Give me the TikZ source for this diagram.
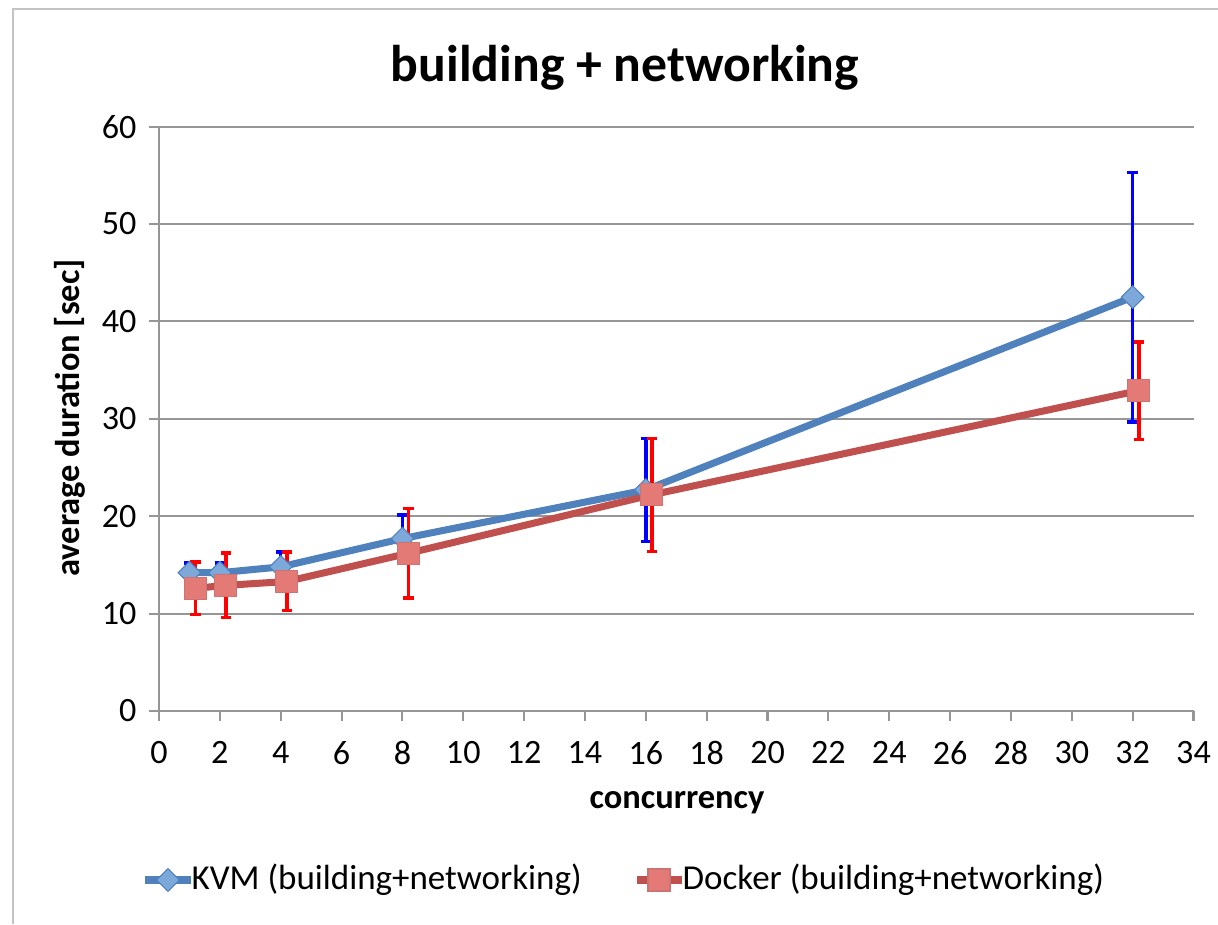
\documentclass[tikz,border=0pt]{standalone}
\usepackage{fontspec}
\setmainfont{Carlito}
\usepackage{xcolor}
\usetikzlibrary{shapes.geometric, positioning}

\definecolor{kvmblue}{RGB}{79,129,189}
\definecolor{kvmfill}{RGB}{125,168,218}
\definecolor{dockred}{RGB}{192,80,77}
\definecolor{dockfill}{RGB}{228,122,118}
\definecolor{gridgray}{RGB}{150,150,150}
\definecolor{framegray}{RGB}{195,195,195}

\begin{document}
\begin{tikzpicture}[
    x=0.01cm, y=-0.01cm,
    tick/.style={font=\fontsize{9.7}{11}\selectfont, inner sep=1pt},
    legendtext/.style={font=\fontsize{9.95}{11}\selectfont, inner sep=0pt},
    axtitle/.style={font=\bfseries\fontsize{9.8}{11}\selectfont, inner sep=1pt},
    gridline/.style={gridgray, line width=0.6pt},
    kvmcurve/.style={kvmblue, line width=2pt, line join=round},
    dockcurve/.style={dockred, line width=2pt, line join=round},
    kvmerr/.style={blue, line width=1pt},
    dockerr/.style={red, line width=1pt},
    kvmmark/.style={diamond, fill=kvmfill, draw=kvmblue, line width=0.3pt, inner sep=0pt, minimum size=0.23cm},
    dockmark/.style={rectangle, fill=dockfill, draw=dockred!80, line width=0.3pt, inner sep=0pt, minimum size=0.22cm}
]
\useasboundingbox (0,0) rectangle (1218,924);
\fill[white] (0,0) rectangle (1218,924);
\draw[framegray, line width=0.6pt] (13,924) -- (13,9) -- (1218,9);

\node[font=\bfseries\fontsize{14.7}{17}\selectfont] (title) at (625,68) {building + networking};

\begin{scope}[shift={(159,711)}, x=0.3041cm, y=0.09733cm]
  % grid and axes
  \foreach \v in {10,20,...,60}
    \draw[gridline] (-0.33,\v) -- (34,\v);
  \draw[gridline] (-0.33,0) -- (34,0);
  \draw[gridline] (0,0) -- (0,60);
  \foreach \v in {0,10,...,60}
    \node[tick, anchor=east] (ylab\v) at (-0.6,\v) {\v};
  \foreach \u in {0,2,...,34}{
    \draw[gridline] (\u,0) -- (\u,-1.05);
    \node[tick] (xlab\u) at (\u,-4.3) {\u};
  }

  % KVM: x / mean / error
  \foreach \x/\y/\e [count=\i] in {1/14.2/1.0, 2/14.2/1.0, 4/14.8/1.5, 8/17.7/2.4, 16/22.7/5.3, 32/42.5/12.8}{
    \coordinate (kp\i) at (\x,\y);
    \draw[kvmerr] (\x,\y-\e) -- (\x,\y+\e);
    \draw[kvmerr] (\x,\y-\e) ++(-0.17,0) -- ++(0.34,0);
    \draw[kvmerr] (\x,\y+\e) ++(-0.17,0) -- ++(0.34,0);
  }
  % Docker: x / mean / error
  \foreach \x/\y/\e [count=\i] in {1.2/12.6/2.7, 2.2/12.9/3.3, 4.2/13.3/3.0, 8.2/16.2/4.6, 16.2/22.2/5.8, 32.2/32.9/5.0}{
    \coordinate (dp\i) at (\x,\y);
    \draw[dockerr] (\x,\y-\e) -- (\x,\y+\e);
    \draw[dockerr] (\x,\y-\e) ++(-0.17,0) -- ++(0.34,0);
    \draw[dockerr] (\x,\y+\e) ++(-0.17,0) -- ++(0.34,0);
  }

  \draw[kvmcurve] (kp1) \foreach \i in {2,...,6}{ -- (kp\i)};
  \draw[dockcurve] (dp1) \foreach \i in {2,...,6}{ -- (dp\i)};

  \foreach \i in {1,...,6}{
    \node[kvmmark] (kvm\i) at (kp\i) {};
    \node[dockmark] (dock\i) at (dp\i) {};
  }
\end{scope}

\node[axtitle, rotate=90] (ytitle) at (70,418) {average duration [sec]};
\node[axtitle] (xtitle) at (677,803) {concurrency};

% legend
\coordinate (kvmkeyA) at (145,880);
\coordinate (kvmkeyB) at (191,880);
\draw[kvmcurve] (kvmkeyA) -- (kvmkeyB);
\node[kvmmark] (kvmkey) at (168,880) {};
\node[legendtext, anchor=west] (kvmtext) at (kvmkeyB) {KVM (building+networking)};

\coordinate (dockkeyA) at (637,880);
\coordinate (dockkeyB) at (682,880);
\draw[dockcurve] (dockkeyA) -- (dockkeyB);
\node[dockmark] (dockkey) at (659,880) {};
\node[legendtext, anchor=west] (docktext) at (dockkeyB) {Docker (building+networking)};
\end{tikzpicture}
\end{document}
